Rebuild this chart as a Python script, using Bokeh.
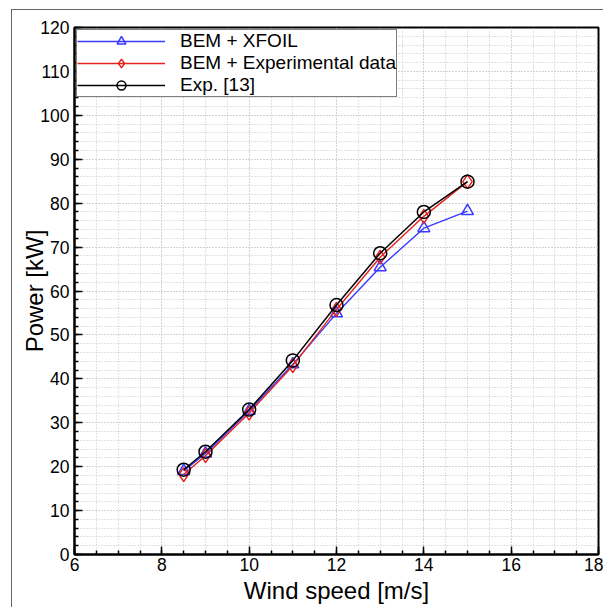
from bokeh.plotting import figure
from bokeh.models import Range1d, SingleIntervalTicker, Legend, LegendItem
from bokeh.embed import file_html
from bokeh.resources import INLINE

wind = [8.5, 9, 10, 11, 12, 13, 14, 15]
bem_xfoil = [19.0, 23.0, 32.7, 43.3, 54.9, 65.4, 74.3, 78.2]
bem_expdata = [18.2, 22.5, 32.2, 43.0, 55.8, 67.7, 77.0, 84.9]
exp13 = [19.3, 23.4, 33.0, 44.2, 56.8, 68.6, 78.0, 84.9]

x_label = "Wind speed [m/s]"
y_label = "Power [kW]"
names = ["BEM + XFOIL", "BEM + Experimental data", "Exp. [13]"]

FONT = "Liberation Sans"

p = figure(width=592, height=598, output_backend="svg", toolbar_location=None,
           x_range=Range1d(6, 18), y_range=Range1d(0, 120),
           min_border_left=62, min_border_top=17, min_border_right=6, min_border_bottom=54)
p.styles = {"margin-left": "11px", "margin-top": "9px",
            "border-left": "1px solid #666", "border-top": "1px solid #666"}

p.outline_line_color = "black"
p.outline_line_width = 2
p.outline_line_alpha = 1

p.xaxis.ticker = SingleIntervalTicker(interval=2, num_minor_ticks=4)
p.yaxis.ticker = SingleIntervalTicker(interval=10, num_minor_ticks=5)
for ax in (p.xaxis[0], p.yaxis[0]):
    ax.axis_line_color = "black"
    ax.axis_line_width = 2
    ax.major_tick_in = 8
    ax.major_tick_out = 0
    ax.minor_tick_in = 4
    ax.minor_tick_out = 0
    ax.major_tick_line_color = "black"
    ax.major_tick_line_width = 1.5
    ax.minor_tick_line_color = "black"
    ax.minor_tick_line_width = 1.5
    ax.major_label_text_font = FONT
    ax.major_label_text_font_size = "17.5px"
    ax.major_label_text_color = "black"
    ax.axis_label_text_font = FONT
    ax.axis_label_text_font_size = "24px"
    ax.axis_label_text_font_style = "normal"
    ax.axis_label_text_color = "black"
p.xaxis.axis_label = x_label
p.yaxis.axis_label = y_label
p.xaxis.major_label_standoff = 3
p.xaxis.axis_label_standoff = 3
p.yaxis.major_label_standoff = 5
p.yaxis.axis_label_standoff = -11

for g in (p.xgrid[0], p.ygrid[0]):
    g.grid_line_color = "#c4c4c4"
    g.grid_line_dash = "1 2"
    g.grid_line_width = 1
    g.minor_grid_line_color = "#c4c4c4"
    g.minor_grid_line_dash = "1 2"
    g.minor_grid_line_width = 1

blue = "#3a3aff"
red = "#e3241f"

l1 = p.line(wind, bem_xfoil, line_color=blue, line_width=1.4)
s1 = p.scatter(wind, bem_xfoil, marker="triangle", size=12, fill_color=None,
               line_color=blue, line_width=1.5)
l2 = p.line(wind, bem_expdata, line_color=red, line_width=1.4)
s2 = p.scatter(wind, bem_expdata, marker="diamond", size=14, fill_color=None,
               line_color=red, line_width=1.5)
l3 = p.line(wind, exp13, line_color="black", line_width=1.5)
s3 = p.scatter(wind, exp13, marker="circle", size=13, fill_color=None,
               line_color="black", line_width=1.5)

legend = Legend(items=[LegendItem(label=names[0], renderers=[l1, s1]),
                       LegendItem(label=names[1], renderers=[l2, s2]),
                       LegendItem(label=names[2], renderers=[l3, s3])],
                location="top_left")
legend.margin = 2
legend.padding = 0
legend.spacing = 0
legend.label_height = 21
legend.glyph_height = 22
legend.glyph_width = 88
legend.label_standoff = 15
legend.label_text_font = FONT
legend.label_text_font_size = "19px"
legend.label_text_color = "black"
legend.border_line_color = "black"
legend.border_line_width = 1
legend.background_fill_color = "white"
legend.background_fill_alpha = 1
p.add_layout(legend)

open("out.html", "w").write(file_html(p, INLINE))
